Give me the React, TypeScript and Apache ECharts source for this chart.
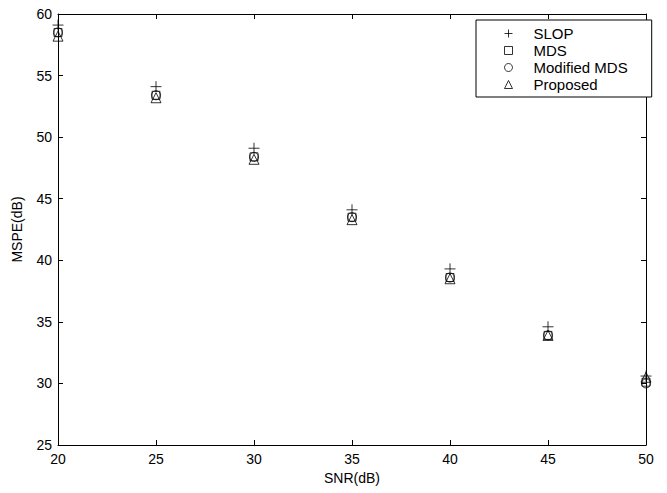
import React, { useEffect, useRef } from "react";
import * as echarts from "echarts";

const snr = [20, 25, 30, 35, 40, 45, 50];
const slop = [59.1, 54.1, 49.1, 44.1, 39.3, 34.6, 30.6];
const mds = [58.5, 53.4, 48.4, 43.5, 38.6, 33.9, 30.1];
const modifiedMds = [58.5, 53.4, 48.4, 43.5, 38.6, 33.9, 30.0];
const proposed = [58.2, 53.2, 48.2, 43.3, 38.5, 33.9, 30.5];
const seriesNames = ["SLOP", "MDS", "Modified MDS", "Proposed"];

const FONT = "'Liberation Sans', Arial, Helvetica, sans-serif";
const PLUS = "path://M5,0L5,10M0,5L10,5";

export default function App() {
  const ref = useRef<HTMLDivElement>(null);
  useEffect(() => {
    if (!ref.current) return;
    const chart = echarts.init(ref.current, undefined, { renderer: "svg" });
    const pts = (arr: number[]) => snr.map((x, i) => [x, arr[i]]);
    const markerStyle = { color: "rgba(0,0,0,0)", borderColor: "#000", borderWidth: 1 };
    const axisCommon = {
      axisLine: { show: true, lineStyle: { color: "#000", width: 1 } },
      axisTick: { show: true, inside: true, length: 5, lineStyle: { color: "#000" } },
      splitLine: { show: false },
    };
    chart.setOption({
      animation: false,
      backgroundColor: "#fff",
      textStyle: { fontFamily: FONT },
      grid: { left: 58, right: 21, top: 14, bottom: 48, containLabel: false },
      xAxis: [
        {
          type: "value", min: 20, max: 50, interval: 5, position: "bottom",
          name: "SNR(dB)", nameLocation: "middle", nameGap: 23,
          nameTextStyle: { color: "#000", fontSize: 14, fontFamily: FONT },
          axisLabel: { color: "#000", fontSize: 14, margin: 7, fontFamily: FONT },
          ...axisCommon,
        },
        {
          type: "value", min: 20, max: 50, interval: 5, position: "top",
          axisLabel: { show: false }, ...axisCommon,
        },
      ],
      yAxis: [
        {
          type: "value", min: 25, max: 60, interval: 5, position: "left",
          name: "MSPE(dB)", nameLocation: "middle", nameGap: 34,
          nameTextStyle: { color: "#000", fontSize: 14, fontFamily: FONT },
          axisLabel: { color: "#000", fontSize: 14, margin: 6, fontFamily: FONT },
          ...axisCommon,
        },
        {
          type: "value", min: 25, max: 60, interval: 5, position: "right",
          axisLabel: { show: false }, ...axisCommon,
        },
      ],
      legend: {
        orient: "vertical",
        left: 476,
        top: 20,
        data: seriesNames,
        itemWidth: 8,
        itemHeight: 8,
        itemGap: 2,
        padding: [6, 24, 5, 28],
        borderColor: "#000",
        borderWidth: 1,
        backgroundColor: "#fff",
        itemStyle: { borderWidth: 1, color: "rgba(0,0,0,0)", borderColor: "#000" },
        textStyle: { color: "#000", fontSize: 15, lineHeight: 15, padding: [0, 0, 0, 16], fontFamily: FONT },
      },
      series: [
        { name: "SLOP", type: "scatter", data: pts(slop), symbol: PLUS, symbolSize: 11, itemStyle: markerStyle },
        { name: "MDS", type: "scatter", data: pts(mds), symbol: "rect", symbolSize: 8, itemStyle: markerStyle },
        { name: "Modified MDS", type: "scatter", data: pts(modifiedMds), symbol: "circle", symbolSize: 9, itemStyle: markerStyle },
        { name: "Proposed", type: "scatter", data: pts(proposed), symbol: "triangle", symbolSize: 10, itemStyle: markerStyle },
      ],
    });
    return () => chart.dispose();
  }, []);
  return <div ref={ref} style={{ width: 667, height: 493, position: "absolute", left: 0, top: 0 }} />;
}
